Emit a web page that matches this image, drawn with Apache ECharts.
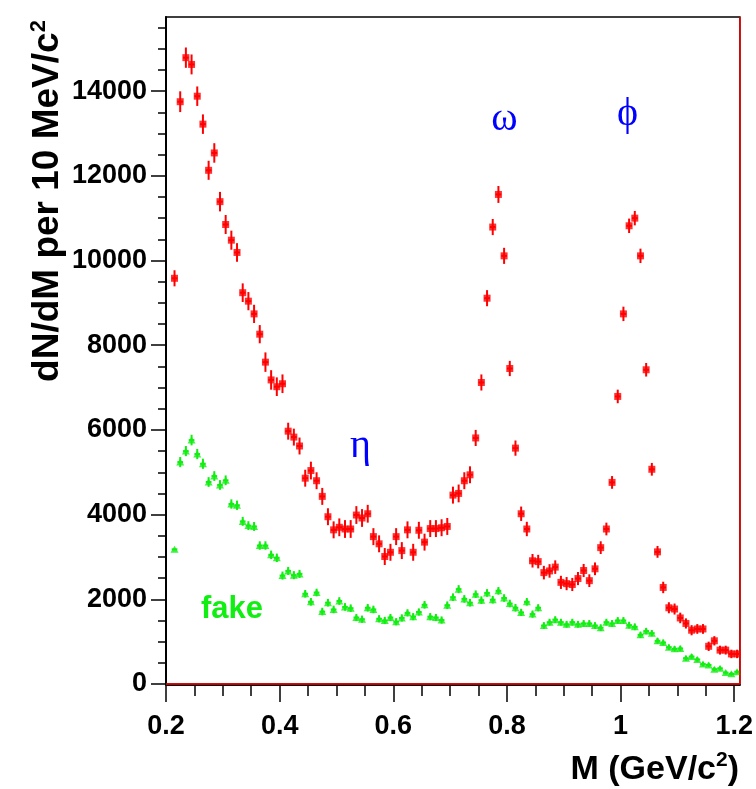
<!DOCTYPE html>
<html>
<head>
<meta charset="utf-8">
<script src="https://cdn.jsdelivr.net/npm/echarts@6/dist/echarts.min.js"></script>
<style>
html,body{margin:0;padding:0;background:#fff;}
#chart{width:756px;height:789px;}
</style>
</head>
<body>
<div id="chart"></div>
<script>
// ---- data ----
const mass = [0.215,0.225,0.235,0.245,0.255,0.265,0.275,0.285,0.295,0.305,
0.315,0.325,0.335,0.345,0.355,0.365,0.375,0.385,0.395,0.405,
0.415,0.425,0.435,0.445,0.455,0.465,0.475,0.485,0.495,0.505,
0.515,0.525,0.535,0.545,0.555,0.565,0.575,0.585,0.595,0.605,
0.615,0.625,0.635,0.645,0.655,0.665,0.675,0.685,0.695,0.705,
0.715,0.725,0.735,0.745,0.755,0.765,0.775,0.785,0.795,0.805,
0.815,0.825,0.835,0.845,0.855,0.865,0.875,0.885,0.895,0.905,
0.915,0.925,0.935,0.945,0.955,0.965,0.975,0.985,0.995,1.005,
1.015,1.025,1.035,1.045,1.055,1.065,1.075,1.085,1.095,1.105,
1.115,1.125,1.135,1.145,1.155,1.165,1.175,1.185,1.195,1.205];

const signal = [9580,13750,14790,14630,13880,13220,12130,12540,11390,10850,
10480,10190,9240,9040,8740,8260,7600,7180,7020,7090,
5970,5830,5620,4860,5040,4800,4430,3950,3640,3700,
3660,3660,3990,3920,4020,3480,3310,3010,3110,3480,
3150,3640,3110,3630,3350,3670,3670,3690,3720,4460,
4500,4800,4940,5810,7120,9110,10790,11560,10110,7450,
5570,4020,3660,2910,2890,2630,2670,2760,2400,2370,
2350,2490,2680,2440,2720,3220,3660,4760,6790,8740,
10820,11000,10110,7420,5070,3120,2280,1800,1770,1560,
1430,1270,1300,1300,890,1020,800,800,710,710];

const signalErr = [190,245,240,235,230,230,225,230,230,225,
225,220,220,215,215,215,230,230,220,220,
200,200,200,200,210,200,200,200,200,210,
210,210,210,210,210,200,200,200,200,200,
200,200,200,200,200,200,200,200,200,200,
210,200,200,190,190,190,190,200,190,180,
180,170,170,160,160,160,160,160,155,155,
155,155,155,150,150,150,150,150,160,170,
170,170,170,160,150,140,135,130,130,125,
120,120,115,115,110,110,105,105,100,100];

const fake = [3180,5240,5500,5760,5430,5200,4770,4910,4700,4810,
4250,4220,3840,3740,3720,3270,3270,3050,2980,2560,
2670,2570,2600,2130,1940,2160,1710,1920,1760,1960,
1820,1790,1570,1530,1800,1760,1540,1500,1570,1470,
1560,1680,1590,1700,1870,1590,1570,1510,1860,2050,
2240,2010,1920,2120,1980,2150,1990,2200,2030,1900,
1800,1690,1940,1650,1800,1380,1460,1520,1460,1410,
1460,1410,1430,1430,1380,1330,1460,1430,1500,1500,
1390,1350,1160,1250,1200,1020,980,870,830,840,
610,650,580,470,450,350,370,270,240,290];

const fakeErr = [0,120,120,125,120,120,115,115,115,115,
110,110,105,105,105,100,100,100,100,95,
95,95,95,90,90,90,90,90,90,90,
90,90,85,85,90,90,85,85,85,85,
85,85,85,85,90,85,85,85,90,90,
95,90,90,90,90,90,90,90,90,90,
90,85,90,85,85,80,80,80,80,80,
80,80,80,80,80,80,80,80,80,80,
80,80,75,75,75,70,70,65,65,65,
60,60,60,55,55,50,50,45,45,45];

const xMajorTicks = [0.2,0.4,0.6,0.8,1.0,1.2];
const xMinorTicks = [0.25,0.3,0.35,0.45,0.5,0.55,0.65,0.7,0.75,0.85,0.9,0.95,1.05,1.1,1.15];
const yMajorTicks = [0,2000,4000,6000,8000,10000,12000,14000];
const yMinorTicks = [500,1000,1500,2500,3000,3500,4500,5000,5500,6500,7000,7500,
8500,9000,9500,10500,11000,11500,12500,13000,13500,14500,15000,15500];

const annotations = [
  {text:'\u03B7', x:0.542, y:5600, kind:'greek'},
  {text:'\u03C9', x:0.7956, y:13330, kind:'greek'},
  {text:'\u03D5', x:1.012, y:13440, kind:'greek'},
  {text:'fake', x:0.3161, y:1760, kind:'fake'}
];

const X_MIN = 0.2, X_MAX = 1.21, Y_MIN = 0, Y_MAX = 15750;
const RED_EDGE = 1.2057;
const RED = '#ff0000', GREEN = '#11ee11', BLUE = '#0000ff';
const SANS = "'Liberation Sans', Arial, Helvetica, sans-serif";
const SERIF = "'Liberation Serif', 'Times New Roman', serif";

// ---- build ----
const sigPts = mass.map((m,i)=>[m, signal[i], signalErr[i]]);
const fakePts = mass.map((m,i)=>[m, fake[i], fakeErr[i]]);

function errRender(color){
  return function(params, api){
    const x = api.value(0), y = api.value(1), e = api.value(2);
    const top = api.coord([x, y+e]), bot = api.coord([x, y-e]);
    const l = api.coord([x-0.005, y]), r = api.coord([x+0.005, y]);
    return {type:'group', children:[
      {type:'line', shape:{x1:top[0],y1:top[1],x2:bot[0],y2:bot[1]}, style:{stroke:color, lineWidth:2}},
      {type:'line', shape:{x1:l[0],y1:l[1],x2:r[0],y2:r[1]}, style:{stroke:color, lineWidth:2}}
    ]};
  };
}

const tickLabelStyle = {fontFamily:SANS, fontWeight:'bold', fontSize:27, color:'#000'};

const chart = echarts.init(document.getElementById('chart'), null, {renderer:'canvas'});
chart.setOption({
  animation:false,
  backgroundColor:'#fff',
  grid:{left:166, top:17, right:16, bottom:105, show:true, borderColor:'#000', borderWidth:1.5, backgroundColor:'transparent'},
  xAxis:[
    {type:'value', min:X_MIN, max:X_MAX, position:'bottom', offset:1,
     axisLine:{show:true, onZero:false, lineStyle:{color:'#000', width:2}},
     axisTick:{show:true, customValues:xMajorTicks, length:17, lineStyle:{color:'#000', width:1.5}},
     axisLabel:Object.assign({customValues:xMajorTicks, margin:28, formatter:v=>String(v)}, tickLabelStyle),
     splitLine:{show:false}},
    {type:'value', min:X_MIN, max:X_MAX, position:'bottom', offset:1,
     axisLine:{show:false, onZero:false},
     axisTick:{show:true, customValues:xMinorTicks, length:11, lineStyle:{color:'#000', width:1.5}},
     axisLabel:{show:false}, splitLine:{show:false}}
  ],
  yAxis:[
    {type:'value', min:Y_MIN, max:Y_MAX, position:'left',
     axisLine:{show:true, onZero:false, lineStyle:{color:'#000', width:2}},
     axisTick:{show:true, customValues:yMajorTicks, length:15, lineStyle:{color:'#000', width:1.5}},
     axisLabel:Object.assign({customValues:yMajorTicks, margin:19, formatter:v=>String(v)}, tickLabelStyle),
     splitLine:{show:false}},
    {type:'value', min:Y_MIN, max:Y_MAX, position:'left',
     axisLine:{show:false, onZero:false},
     axisTick:{show:true, customValues:yMinorTicks, length:8, lineStyle:{color:'#000', width:1.5}},
     axisLabel:{show:false}, splitLine:{show:false}}
  ],
  series:[
    {type:'custom', name:'signalErr', renderItem:errRender(RED), data:sigPts, z:3, silent:true},
    {type:'scatter', name:'signal', data:sigPts, symbol:'rect', symbolSize:7,
     itemStyle:{color:RED}, z:4, silent:true,
     markLine:{silent:true, symbol:'none', label:{show:false},
       lineStyle:{color:RED, width:1.5, type:'solid'},
       data:[{yAxis:0},{xAxis:RED_EDGE}]}},
    {type:'custom', name:'fakeErr', renderItem:errRender(GREEN), data:fakePts, z:3, silent:true},
    {type:'scatter', name:'fake', data:fakePts, symbol:'triangle', symbolSize:[8,7],
     itemStyle:{color:GREEN}, z:4, silent:true},
    {type:'scatter', name:'labels', symbolSize:1, itemStyle:{color:'rgba(0,0,0,0)'}, silent:true, z:6,
     data:annotations.map(a=>({value:[a.x,a.y],
       label:{show:true, position:'inside', formatter:a.text, opacity:1,
         fontFamily: a.kind==='greek'?SERIF:SANS,
         fontWeight: a.kind==='greek'?'normal':'bold',
         fontSize: a.kind==='greek'?40:31,
         color: a.kind==='greek'?BLUE:GREEN}}))}
  ],
  graphic:[
    {type:'text', x:48, y:201, rotation:Math.PI/2,
     style:{text:'{t|dN/dM per 10 MeV/c}{s|2}', align:'center', verticalAlign:'middle',
       rich:{t:{fontFamily:SANS, fontWeight:'bold', fontSize:37, fill:'#000', lineHeight:40},
             s:{fontFamily:SANS, fontWeight:'bold', fontSize:22, fill:'#000', verticalAlign:'top', lineHeight:40}}}},
    {type:'text', x:739, y:790,
     style:{text:'{t|M (GeV/c}{s|2}{t|)}', align:'right', verticalAlign:'bottom',
       rich:{t:{fontFamily:SANS, fontWeight:'bold', fontSize:34, fill:'#000', lineHeight:40},
             s:{fontFamily:SANS, fontWeight:'bold', fontSize:21, fill:'#000', verticalAlign:'top', lineHeight:40}}}}
  ]
});
</script>
</body>
</html>
